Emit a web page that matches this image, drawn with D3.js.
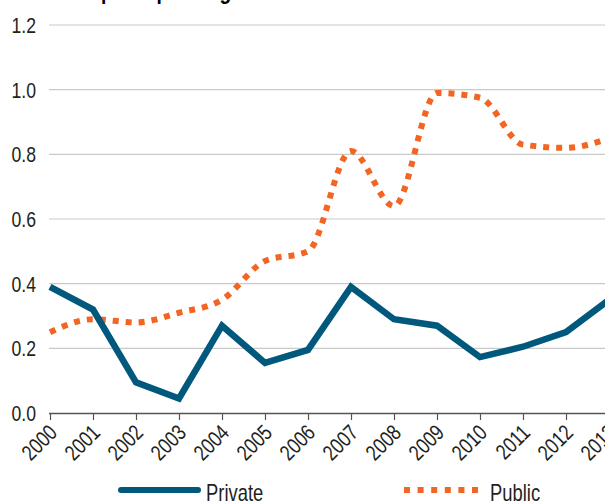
<!DOCTYPE html>
<html>
<head>
<meta charset="utf-8">
<script src="https://cdn.jsdelivr.net/npm/d3@7"></script>
<style>
  html, body { margin: 0; padding: 0; background: #fff; overflow: hidden; }
  svg { display: block; }
  text { font-family: "Liberation Sans", Arial, sans-serif; fill: #231f20; }
</style>
</head>
<body>
<svg id="chart" width="605" height="502"></svg>
<script>
const years = [2000, 2001, 2002, 2003, 2004, 2005, 2006, 2007, 2008, 2009, 2010, 2011, 2012, 2013];
const privateValues = [0.39, 0.32, 0.095, 0.045, 0.27, 0.155, 0.195, 0.39, 0.29, 0.27, 0.173, 0.205, 0.25, 0.35];
const publicValues = [0.25, 0.29, 0.28, 0.31, 0.35, 0.47, 0.50, 0.81, 0.64, 0.99, 0.975, 0.83, 0.82, 0.85];
const yTicks = [0, 0.2, 0.4, 0.6, 0.8, 1.0, 1.2];
const seriesNames = ["Private", "Public"];
const titleText = "Total capital spending";

const svg = d3.select("#chart");
const W = 605, H = 502;
const SX = 0.8; // horizontal condensation to mimic a condensed face

const x = d3.scaleLinear().domain([2000, 2013]).range([50, 609]);
const y = d3.scaleLinear().domain([0, 1.2]).range([413, 25]);

// partially visible title (cut off at top)
svg.append("text")
  .attr("transform", `translate(30,-1.5) scale(${SX},1)`)
  .attr("font-size", 24).attr("font-weight", "bold")
  .style("fill", "#000")
  .text(titleText);

// gridlines
svg.append("g").selectAll("line")
  .data(yTicks.filter(d => d > 0))
  .join("line")
  .attr("x1", 49).attr("x2", W)
  .attr("y1", d => y(d)).attr("y2", d => y(d))
  .attr("stroke", "#c9c9c9").attr("stroke-width", 1.2);

// y labels
svg.append("g").selectAll("text")
  .data(yTicks)
  .join("text")
  .attr("transform", d => `translate(36,${y(d)}) scale(${SX},1)`)
  .attr("dy", "0.36em")
  .attr("text-anchor", "end")
  .attr("font-size", 22)
  .text(d => d3.format(".1f")(d));

// x axis
const xAxis = d3.axisBottom(x)
  .tickValues(years)
  .tickSize(7)
  .tickFormat(d3.format("d"));
const gx = svg.append("g").attr("transform", `translate(0,${y(0)})`).call(xAxis);
gx.attr("font-family", null).attr("font-size", null);
gx.select(".domain").attr("stroke", "#555").attr("stroke-width", 1.5)
  .attr("d", `M49,0.5H${W}`);
gx.selectAll(".tick line").attr("stroke", "#555").attr("stroke-width", 1.2);
gx.selectAll(".tick text")
  .attr("font-size", 22)
  .style("fill", "#231f20")
  .attr("text-anchor", "end")
  .attr("dx", 0).attr("dy", 0)
  .attr("y", 0)
  .attr("transform", `translate(8,21) rotate(-45) scale(${SX},1)`);

// lines
const privLine = d3.line()
  .x((d, i) => x(years[i]))
  .y(d => y(d));

const pubLine = d3.line()
  .x((d, i) => x(years[i]))
  .y(d => y(d))
  .curve(d3.curveMonotoneX);

svg.append("path")
  .datum(publicValues)
  .attr("d", pubLine)
  .attr("fill", "none")
  .attr("stroke", "#f26522")
  .attr("stroke-width", 6)
  .attr("stroke-dasharray", "6,7");

svg.append("path")
  .datum(privateValues)
  .attr("d", privLine)
  .attr("fill", "none")
  .attr("stroke", "#00587c")
  .attr("stroke-width", 6.5)
  .attr("stroke-linejoin", "miter");

// legend
const lg = svg.append("g");
lg.append("line")
  .attr("x1", 121).attr("x2", 198).attr("y1", 490).attr("y2", 490)
  .attr("stroke", "#00587c").attr("stroke-width", 6).attr("stroke-linecap", "round");
lg.append("text")
  .attr("transform", `translate(206,501) scale(${SX},1)`)
  .attr("font-size", 23)
  .text(seriesNames[0]);
lg.append("line")
  .attr("x1", 404).attr("x2", 478).attr("y1", 490).attr("y2", 490)
  .attr("stroke", "#f26522").attr("stroke-width", 6).attr("stroke-dasharray", "6,7.6");
lg.append("text")
  .attr("transform", `translate(490,501) scale(${SX},1)`)
  .attr("font-size", 23)
  .text(seriesNames[1]);
</script>
</body>
</html>
